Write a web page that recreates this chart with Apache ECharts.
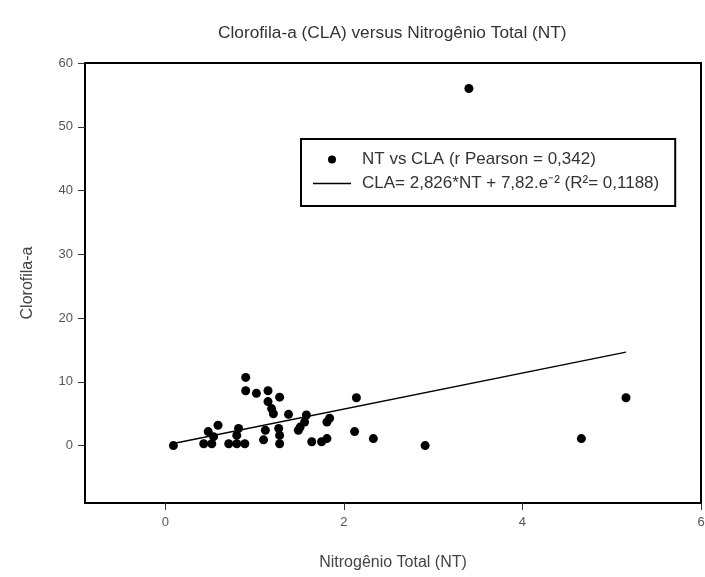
<!DOCTYPE html>
<html>
<head>
<meta charset="utf-8">
<script src="https://cdn.jsdelivr.net/npm/echarts@6/dist/echarts.min.js"></script>
<style>
  html, body { margin: 0; padding: 0; background: #fff; }
  #chart { width: 705px; height: 577px; }
</style>
</head>
<body>
<div id="chart"></div>
<script>
// NT (x) e CLA (y)
var ntValues = [0.09, 0.43, 0.52, 0.48, 0.54, 0.59, 0.71, 0.80, 0.89, 0.82, 0.80,
                0.90, 0.90, 1.02, 1.15, 1.15, 1.19, 1.21, 1.28, 1.38,
                1.12, 1.10, 1.27, 1.28, 1.28, 1.58, 1.56, 1.49, 1.51,
                1.64, 1.75, 1.81, 1.84, 1.81, 2.14, 2.12, 2.33, 2.91,
                3.40, 4.66, 5.16];
var claValues = [0.0, 0.3, 0.3, 2.2, 1.4, 3.2, 0.3, 0.3, 0.3, 2.7, 1.6,
                 10.7, 8.6, 8.2, 8.6, 6.9, 5.8, 5.0, 7.6, 4.9,
                 2.4, 0.9, 2.7, 1.6, 0.3, 4.8, 3.7, 2.4, 2.9,
                 0.6, 0.6, 1.1, 4.3, 3.7, 7.5, 2.2, 1.1, 0.0,
                 56.0, 1.1, 7.5];
// reta de regressão (extremos)
var fitX = [0.09, 5.16];
var fitY = [0.33, 14.66];
var yTicks = [0, 10, 20, 30, 40, 50, 60];
var xTicks = [0, 2, 4, 6];

var scatterName = 'NT vs CLA (r Pearson = 0,342)';
var lineName = 'CLA= 2,826*NT + 7,82.e\u207B\u00B2 (R\u00B2= 0,1188)';

var chart = echarts.init(document.getElementById('chart'));

var pts = ntValues.map(function (x, i) { return [x, claValues[i]]; });
var fit = fitX.map(function (x, i) { return [x, fitY[i]]; });

var option = {
    animation: false,
    textStyle: { fontFamily: 'Liberation Sans, Arial, sans-serif' },
    title: {
        text: 'Clorofila-a (CLA) versus Nitrogênio Total (NT)',
        left: 213,
        top: 20,
        textStyle: { fontSize: 17.3, fontWeight: 'normal', color: '#333' }
    },
    grid: {
        left: 85, right: 4, top: 63, bottom: 74,
        outerBoundsMode: 'none',
        show: true, borderColor: '#000', borderWidth: 2, backgroundColor: '#fff'
    },
    legend: {
        orient: 'vertical',
        left: 301, top: 139,
        padding: [12, 16, 14, 12],
        itemGap: 7,
        itemWidth: 38, itemHeight: 8,
        borderColor: '#000', borderWidth: 2,
        backgroundColor: '#fff',
        textStyle: { fontSize: 17, color: '#333', padding: [0, 0, 0, 6] },
        data: [
            { name: scatterName, icon: 'circle', itemStyle: { color: '#000', opacity: 1 } },
            { name: lineName, icon: 'path://M0,0H38V1.5H0Z', itemStyle: { color: '#000' } }
        ]
    },
    xAxis: {
        type: 'value',
        min: -0.9, max: 6,
        name: 'Nitrogênio Total (NT)',
        nameLocation: 'middle',
        nameGap: 52,
        nameTextStyle: { fontSize: 16, color: '#444' },
        axisLine: { show: true, onZero: false, lineStyle: { color: '#000', width: 2 } },
        axisTick: { show: true, length: 7, customValues: xTicks, lineStyle: { color: '#333' } },
        axisLabel: { customValues: xTicks, margin: 13, fontSize: 13, color: '#555' },
        splitLine: { show: false }
    },
    yAxis: {
        type: 'value',
        min: -9, max: 60,
        name: 'Clorofila-a',
        nameLocation: 'middle',
        nameGap: 49,
        nameTextStyle: { fontSize: 16, color: '#444' },
        axisLine: { show: true, onZero: false, lineStyle: { color: '#000', width: 2 } },
        axisTick: { show: true, length: 7, customValues: yTicks, lineStyle: { color: '#333' } },
        axisLabel: { customValues: yTicks, margin: 12, fontSize: 13, color: '#555' },
        splitLine: { show: false }
    },
    series: [
        {
            name: scatterName,
            type: 'scatter',
            symbol: 'circle',
            symbolSize: 9,
            itemStyle: { color: '#000', opacity: 1 },
            data: pts
        },
        {
            name: lineName,
            type: 'line',
            symbol: 'none',
            lineStyle: { color: '#000', width: 1.5 },
            itemStyle: { color: '#000' },
            data: fit
        }
    ]
};

chart.setOption(option);
</script>
</body>
</html>
